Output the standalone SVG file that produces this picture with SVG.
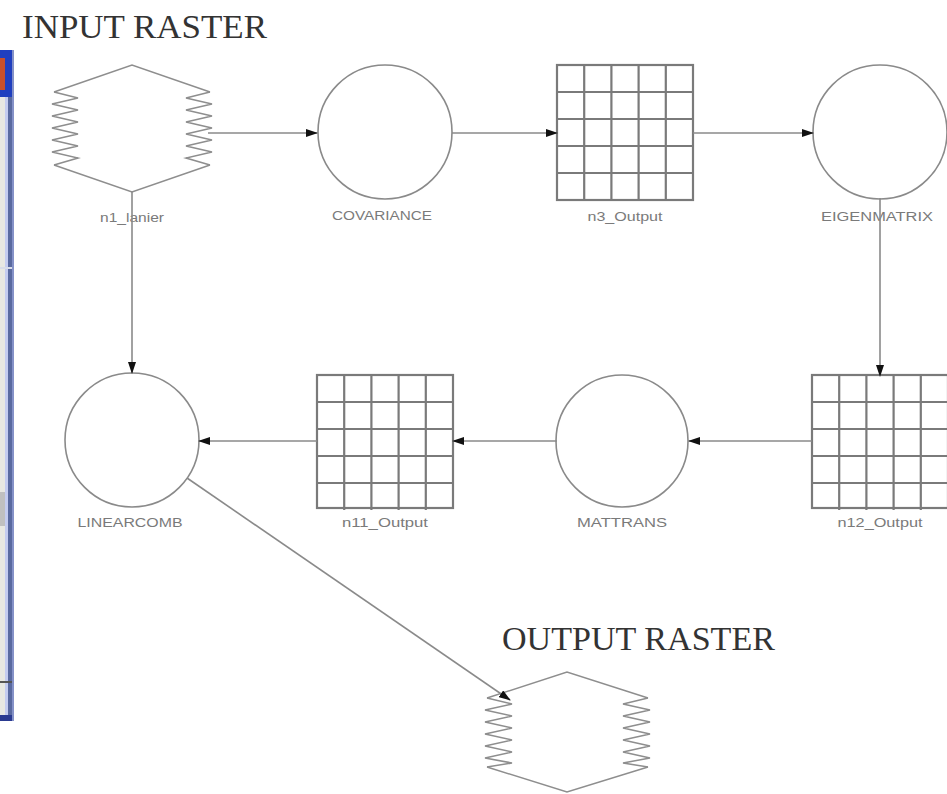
<svg xmlns="http://www.w3.org/2000/svg" width="947" height="794" viewBox="0 0 947 794">
<style>
.c{fill:#fff;stroke:#8a8a8a;stroke-width:1.6}
.g{fill:#fff;stroke:#7a7a7a;stroke-width:2.2}
.gl{stroke:#7a7a7a;stroke-width:2.2;fill:none}
.hf{fill:#fff;stroke:none}
.z{fill:none;stroke:#8e8e8e;stroke-width:1.5}
.lb{font-family:"Liberation Sans",Arial,sans-serif;font-size:12px;fill:#7a7a7a;text-anchor:middle}
.tt{font-family:"Liberation Serif","Times New Roman",serif;font-size:34px;fill:#333}
.e{stroke:#8a8a8a;stroke-width:1.6;fill:none;marker-end:url(#ah)}
</style>
<defs>
<marker id="ah" markerUnits="userSpaceOnUse" markerWidth="12" markerHeight="8" refX="11" refY="4" orient="auto">
<path d="M0,0 L12,4 L0,8 z" fill="#111"/>
</marker>
<path id="gridp" d="M27.2,0V135 M54.4,0V135 M81.6,0V135 M108.8,0V135 M0,27H136 M0,54H136 M0,81H136 M0,108H136"/>
</defs>
<rect width="947" height="794" fill="#fff"/>

<g id="window-frame">
<rect x="0" y="50" width="5" height="671" fill="#e8e8e2"/>
<rect x="5" y="50" width="3" height="671" fill="#c4ccf0"/>
<rect x="8" y="50" width="4" height="671" fill="#5a6aa0"/>
<rect x="12" y="50" width="2" height="671" fill="#8592c8"/>
<rect x="0" y="50" width="12" height="47" fill="#1f3fbf"/>
<rect x="0" y="58" width="5" height="32" fill="#c8502a"/>
<rect x="0" y="267" width="12" height="2" fill="#d8dce8"/>
<rect x="0" y="492" width="5" height="34" fill="#c0c0c0"/>
<rect x="0" y="681" width="12" height="2" fill="#555"/>
<rect x="0" y="715" width="12" height="6" fill="#2a3a90"/>
</g>

<text class="tt" x="22" y="38" textLength="245" lengthAdjust="spacingAndGlyphs">INPUT RASTER</text>
<text class="tt" x="502" y="650" textLength="273" lengthAdjust="spacingAndGlyphs">OUTPUT RASTER</text>

<g id="n1_lanier">
<path class="hf" d="M132,65 L210,92 L210,165 L132,192 L54,165 L54,92 Z"/>
<polyline class="z" points="54,165 132,192 210,165"/>
<polyline class="z" points="54,92 132,65 210,92"/>
<polyline class="z" points="54,92 78,98 52,104 78,110 52,116 78,122 52,128 78,134 52,140 78,146 52,152 78,158 54,165"/>
<polyline class="z" points="210,92 186,98 212,104 186,110 212,116 186,122 212,128 186,134 212,140 186,146 212,152 186,158 210,165"/>
<text class="lb" x="132" y="222" textLength="64" lengthAdjust="spacingAndGlyphs">n1_lanier</text>
</g>

<g id="covariance">
<circle class="c" cx="385" cy="132" r="67"/>
<text class="lb" x="382" y="220" textLength="100" lengthAdjust="spacingAndGlyphs">COVARIANCE</text>
</g>

<g id="n3_Output">
<rect class="g" x="557" y="65" width="136" height="135"/>
<use href="#gridp" class="gl" x="557" y="65"/>
<text class="lb" x="625" y="221" textLength="75" lengthAdjust="spacingAndGlyphs">n3_Output</text>
</g>

<g id="eigenmatrix">
<circle class="c" cx="880" cy="132" r="67"/>
<text class="lb" x="877" y="221" textLength="112" lengthAdjust="spacingAndGlyphs">EIGENMATRIX</text>
</g>

<g id="linearcomb">
<circle class="c" cx="132" cy="440" r="67"/>
<text class="lb" x="130" y="527" textLength="105" lengthAdjust="spacingAndGlyphs">LINEARCOMB</text>
</g>

<g id="n11_Output">
<rect class="g" x="317" y="375" width="136" height="133"/>
<use href="#gridp" class="gl" x="317" y="375"/>
<text class="lb" x="385" y="527" textLength="86" lengthAdjust="spacingAndGlyphs">n11_Output</text>
</g>

<g id="mattrans">
<circle class="c" cx="622" cy="441" r="66"/>
<text class="lb" x="622" y="527" textLength="90" lengthAdjust="spacingAndGlyphs">MATTRANS</text>
</g>

<g id="n12_Output">
<rect class="g" x="812" y="375" width="136" height="133"/>
<use href="#gridp" class="gl" x="812" y="375"/>
<text class="lb" x="880" y="527" textLength="85" lengthAdjust="spacingAndGlyphs">n12_Output</text>
</g>

<g id="output_raster">
<path class="hf" d="M567,672 L648,698 L648,767 L567,792 L487,767 L487,698 Z"/>
<polyline class="z" points="487,698 567,672 648,698"/>
<polyline class="z" points="487,767 567,792 648,767"/>
<polyline class="z" points="487,698 512,704 485,710 512,716 485,722 512,728 485,734 512,740 485,746 512,752 485,758 512,763 487,767"/>
<polyline class="z" points="648,698 623,704 650,710 623,716 650,722 623,728 650,734 623,740 650,746 623,752 650,758 623,763 648,767"/>
</g>

<g id="connectors">
<line class="e" x1="208" y1="133" x2="317" y2="133"/>
<line class="e" x1="452" y1="133" x2="557" y2="133"/>
<line class="e" x1="693" y1="133" x2="813" y2="133"/>
<line class="e" x1="132" y1="192" x2="132" y2="373"/>
<line class="e" x1="880" y1="198" x2="880" y2="376"/>
<line class="e" x1="812" y1="441" x2="689" y2="441"/>
<line class="e" x1="557" y1="441" x2="453" y2="441"/>
<line class="e" x1="317" y1="441" x2="199" y2="441"/>
<line class="e" x1="187" y1="478" x2="510" y2="700"/>
</g>
</svg>
